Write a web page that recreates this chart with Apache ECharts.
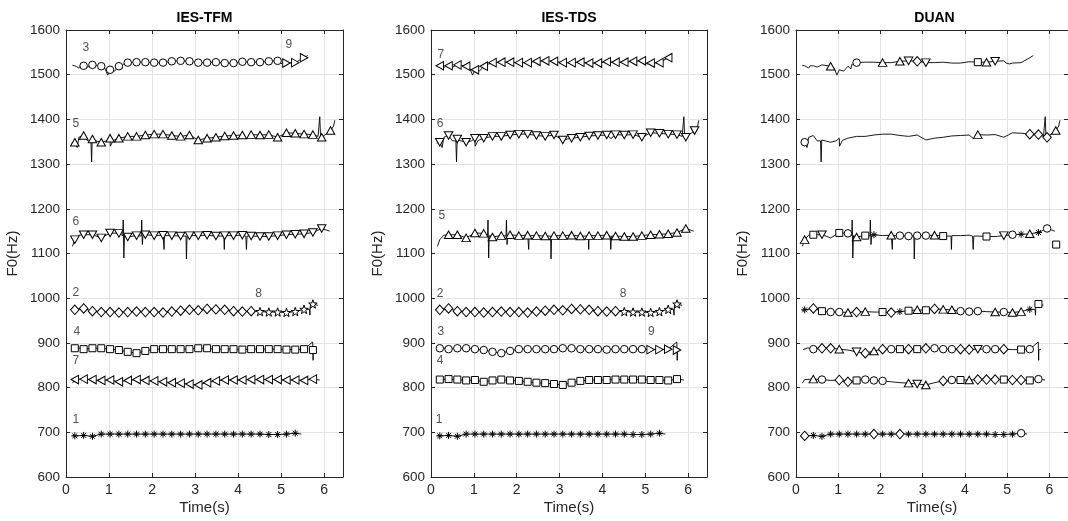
<!DOCTYPE html>
<html><head><meta charset="utf-8">
<script src="https://cdn.jsdelivr.net/npm/echarts@6/dist/echarts.min.js"></script>
<style>html,body{margin:0;padding:0;background:#fff}#c{width:1068px;height:521px}</style>
</head><body><div id="c"></div>
<script>
// ---------------- data ----------------
const STEP = 0.205;                 // marker spacing (s)
const panelTitles = ['IES-TFM', 'IES-TDS', 'DUAN'];
const xTicks = [0, 1, 2, 3, 4, 5, 6];
const yTicks = [600, 700, 800, 900, 1000, 1100, 1200, 1300, 1400, 1500, 1600];

// F0 contours sampled at k*STEP (k = 1..N) plus extra detail points [t, f]
const fA = [1520,1520,1522,1519,1511,1519,1527,1528,1528,1527,1527,1530,1531,1530,1527,1527,1528,1526,1526,1529,1528,1528,1530,1531,1526,1527,1538];
const extraA = [[0.15,1521],[0.3,1515],[0.34,1520],[0.5,1517],[0.9,1515],[0.97,1499],[1.07,1512],[1.13,1508],[1.3,1513],[1.32,1523],[4.98,1526],[5.05,1524],[5.62,1543]];
const fB = [1349,1364,1356,1349,1358,1358,1362,1362,1365,1367,1367,1364,1362,1365,1354,1358,1360,1363,1364,1365,1366,1365,1366,1360,1370,1369,1367,1366,1360,1375];
const extraB = [[0.13,1347],[0.26,1337],[0.3,1360],[0.5,1352],[0.58,1352],[0.595,1305],[0.61,1354],[0.95,1352],[1.03,1340],[1.1,1353],[4.2,1357],[5.86,1362],[5.9,1406],[5.92,1358],[6.22,1385],[6.25,1398]];
const fC = [1131,1142,1142,1135,1146,1145,1137,1140,1142,1140,1141,1140,1139,1140,1140,1141,1139,1140,1140,1141,1139,1138,1138,1140,1142,1143,1144,1147,1156];
const extraC = [[0.15,1116],[0.3,1141],[1.32,1140],[1.33,1175],[1.345,1090],[1.36,1140],[1.75,1139],[1.76,1175],[1.775,1120],[1.79,1140],[2.27,1140],[2.28,1109],[2.29,1140],[2.79,1139],[2.8,1088],[2.815,1139],[3.67,1139],[3.68,1109],[3.695,1139],[4.18,1139],[4.195,1109],[4.21,1139],[6.13,1150]];
const fD = [974,977,971,969,969,968,969,970,969,969,968,970,972,974,973,976,975,974,971,970,971,970,969,969,968,970,975,987];
const extraD = [[0.15,973],[5.66,975],[5.67,962],[5.68,984],[5.86,984]];
const fE = [888,886,888,888,886,884,880,877,882,886,886,886,886,886,888,888,886,886,886,885,886,886,886,886,885,885,886,884];
const extraE = [[0.17,885],[0.28,889],[5.735,902],[5.745,861],[5.75,884],[5.8,886]];
const fF = [818,819,818,816,817,813,816,818,816,815,813,811,810,808,806,811,815,817,817,817,818,818,818,818,817,817,816,819];
const extraF = [[0.15,810],[0.25,818],[5.9,817]];
const fG = [692,693,691,696,696,696,696,696,696,696,696,696,696,696,696,696,696,696,696,696,696,696,695,695,696,698];
const extraG = [[0.15,693],[5.47,696]];

// marker runs: [contour index, marker type, k from, k to]
const marksTFM = [[0,'o',2,24],[0,'>',25,27],[1,'^',1,30],[2,'v',1,29],[3,'d',1,21],[3,'p',22,28],[4,'s',1,28],[5,'<',1,28],[6,'*',1,26]];
const marksTDS = [[0,'<',1,27],[1,'v',1,30],[2,'^',2,29],[3,'d',1,21],[3,'p',22,28],[4,'o',1,24],[4,'>',25,28],[5,'s',1,28],[6,'*',1,26]];
const marksDUAN = [
 [0,'^',4,4],[0,'o',7,7],[0,'^',10,10],[0,'^',12,12],[0,'v',13,13],[0,'d',14,14],[0,'v',15,15],[0,'s',21,21],[0,'^',22,22],[0,'v',23,23],
 [1,'o',1,1],[1,'^',21,21],[1,'d',27,29],[1,'^',30,30],
 [2,'^',1,1],[2,'s',2,2],[2,'v',3,3],[2,'s',5,5],[2,'o',6,6],[2,'^',7,7],[2,'s',8,8],[2,'*',9,9],[2,'^',11,11],[2,'o',12,15],[2,'^',16,16],[2,'s',17,17],[2,'s',22,22],[2,'v',24,24],[2,'o',25,25],[2,'*',26,26],[2,'^',27,27],[2,'*',28,28],[2,'o',29,29],
 [3,'*',1,1],[3,'d',2,2],[3,'s',3,3],[3,'o',4,5],[3,'^',6,6],[3,'d',7,7],[3,'^',8,8],[3,'s',10,10],[3,'d',11,11],[3,'*',12,12],[3,'s',13,13],[3,'^',14,14],[3,'s',15,15],[3,'d',16,16],[3,'^',17,18],[3,'o',19,21],[3,'^',23,23],[3,'o',24,24],[3,'^',25,26],[3,'*',27,27],[3,'s',28,28],
 [4,'o',2,2],[4,'d',3,4],[4,'^',5,5],[4,'v',7,7],[4,'d',8,8],[4,'^',9,9],[4,'d',10,10],[4,'o',11,11],[4,'s',12,12],[4,'d',13,13],[4,'s',14,14],[4,'d',15,15],[4,'o',16,18],[4,'d',19,20],[4,'v',21,21],[4,'o',22,23],[4,'d',24,24],[4,'s',26,26],[4,'o',27,27],
 [5,'^',2,2],[5,'o',3,3],[5,'d',5,6],[5,'s',7,7],[5,'o',8,10],[5,'^',13,13],[5,'v',14,14],[5,'^',15,15],[5,'d',17,17],[5,'o',18,18],[5,'s',19,19],[5,'^',20,20],[5,'d',21,23],[5,'s',24,24],[5,'d',25,26],[5,'s',27,27],[5,'o',28,28],
 [6,'d',1,1],[6,'*',2,8],[6,'d',9,9],[6,'*',10,11],[6,'d',12,12],[6,'*',13,25],[6,'o',26,26]];
const strayDUAN = [['s', 6.16, 1120]];

// source-number annotations: [text, t, f]
const labelsTFM = [['3',0.46,1561],['9',5.18,1568],['5',0.23,1391],['6',0.23,1172],['2',0.23,1013],['8',4.48,1011],['4',0.25,926],['7',0.23,861],['1',0.23,729]];
const labelsTDS = [['7',0.23,1544],['6',0.21,1391],['5',0.25,1184],['2',0.21,1011],['8',4.48,1011],['3',0.23,926],['9',5.14,925],['4',0.21,861],['1',0.19,729]];
const labelsDUAN = [];

// ---------------- build ----------------
const contourF = [fA, fB, fC, fD, fE, fF, fG];
const contourExtra = [extraA, extraB, extraC, extraD, extraE, extraF, extraG];
const panelMarks = [marksTFM, marksTDS, marksDUAN];
const panelStray = [[], [], strayDUAN];
const panelLabels = [labelsTFM, labelsTDS, labelsDUAN];

function starPath() {
  let d = '';
  for (let i = 0; i < 10; i++) {
    const r = i % 2 === 0 ? 5 : 2;
    const a = -Math.PI / 2 + i * Math.PI / 5;
    d += (i === 0 ? 'M' : 'L') + (5 + r * Math.cos(a)).toFixed(3) + ',' + (5 + r * Math.sin(a)).toFixed(3);
  }
  return 'path://' + d + 'Z';
}
const SYM = {
  'o': { symbol: 'circle', size: 7.5 },
  '^': { symbol: 'path://M5,0L10,9L0,9Z', size: [8.5, 7.5] },
  'v': { symbol: 'path://M0,0L10,0L5,9Z', size: [8.5, 7.5] },
  '<': { symbol: 'path://M0,5L9,0L9,10Z', size: [7.5, 8.5] },
  '>': { symbol: 'path://M0,0L9,5L0,10Z', size: [7.5, 8.5] },
  'd': { symbol: 'diamond', size: [8.5, 9.5] },
  's': { symbol: 'rect', size: 7 },
  'p': { symbol: starPath(), size: 8.5 },
  '*': { symbol: 'path://M5,0L5,10M0,5L10,5M1.5,1.5L8.5,8.5M1.5,8.5L8.5,1.5', size: 7 }
};

const grids = [
  { left: 66, top: 30, width: 277, height: 447 },
  { left: 431, top: 30, width: 276, height: 447 },
  { left: 796, top: 30, width: 277, height: 447 }
];
const FONT = 'Liberation Sans, Arial, Helvetica, sans-serif';
const TXT = '#262626';
const XMAX = 6.44;

const xAxis = [], yAxis = [], series = [], graphic = [];
grids.forEach((g, p) => {
  const common = { min: 0, max: XMAX, interval: 1, gridIndex: p };
  xAxis.push(Object.assign({}, common, {
    type: 'value', position: 'bottom',
    name: 'Time(s)', nameLocation: 'middle', nameGap: 23, nameMoveOverlap: false,
    nameTextStyle: { fontFamily: FONT, fontSize: 15, color: TXT },
    axisLine: { show: true, onZero: false, lineStyle: { color: '#262626', width: 1 } },
    axisTick: { show: true, inside: true, length: 4, lineStyle: { color: '#262626' } },
    axisLabel: { show: true, margin: 6, fontFamily: FONT, fontSize: 14, color: TXT, showMaxLabel: false,
      formatter: v => xTicks.indexOf(v) >= 0 ? String(v) : '' },
    splitLine: { show: true, lineStyle: { color: '#e3e3e3', width: 1 } }
  }));
  xAxis.push(Object.assign({}, common, {
    type: 'value', position: 'top',
    axisLine: { show: true, onZero: false, lineStyle: { color: '#262626', width: 1 } },
    axisTick: { show: true, inside: true, length: 4, lineStyle: { color: '#262626' } },
    axisLabel: { show: false }, splitLine: { show: false }
  }));
  const yc = { type: 'value', min: yTicks[0], max: yTicks[yTicks.length - 1], interval: 100, gridIndex: p };
  yAxis.push(Object.assign({}, yc, {
    position: 'left',
    name: 'F0(Hz)', nameLocation: 'middle', nameGap: 46, nameRotate: 90, nameMoveOverlap: false,
    nameTextStyle: { fontFamily: FONT, fontSize: 15, color: TXT },
    axisLine: { show: true, onZero: false, lineStyle: { color: '#262626', width: 1 } },
    axisTick: { show: true, inside: true, length: 4, lineStyle: { color: '#262626' } },
    axisLabel: { show: true, margin: 6, fontFamily: FONT, fontSize: 13.5, color: TXT,
      formatter: v => String(v) },
    splitLine: { show: true, lineStyle: { color: '#e3e3e3', width: 1 } }
  }));
  yAxis.push(Object.assign({}, yc, {
    position: 'right',
    axisLine: { show: true, onZero: false, lineStyle: { color: '#262626', width: 1 } },
    axisTick: { show: true, inside: true, length: 4, lineStyle: { color: '#262626' } },
    axisLabel: { show: false }, splitLine: { show: false }
  }));

  // contour lines
  contourF.forEach((fs, ci) => {
    const pts = fs.map((f, i) => [STEP * (i + 1), f]).concat(contourExtra[ci]);
    pts.sort((a, b) => a[0] - b[0]);
    series.push({
      type: 'line', xAxisIndex: 2 * p, yAxisIndex: 2 * p, data: pts,
      showSymbol: false, symbol: 'none', smooth: false, z: 2, silent: true,
      lineStyle: { color: '#000', width: 0.9 }
    });
  });

  // markers grouped by type
  const byType = {};
  panelMarks[p].forEach(([ci, t, k0, k1]) => {
    for (let k = k0; k <= k1; k++) {
      (byType[t] = byType[t] || []).push([STEP * k, contourF[ci][k - 1]]);
    }
  });
  panelStray[p].forEach(([t, x, y]) => { (byType[t] = byType[t] || []).push([x, y]); });
  Object.keys(byType).forEach(t => {
    series.push({
      type: 'scatter', xAxisIndex: 2 * p, yAxisIndex: 2 * p, data: byType[t],
      symbol: SYM[t].symbol, symbolSize: SYM[t].size, z: 3, silent: true,
      itemStyle: { color: '#fff', borderColor: '#000', borderWidth: 1, opacity: 1 }
    });
  });

  // number annotations
  if (panelLabels[p].length) {
    series.push({
      type: 'scatter', xAxisIndex: 2 * p, yAxisIndex: 2 * p, symbolSize: 0, z: 4, silent: true,
      data: panelLabels[p].map(([txt, x, y]) => ({ value: [x, y], name: txt })),
      label: { show: true, position: 'inside', formatter: '{b}', fontFamily: FONT, fontSize: 12, color: TXT }
    });
  }

  graphic.push({
    type: 'text', x: g.left + g.width / 2, y: 18,
    style: { text: panelTitles[p], fontFamily: FONT, fontSize: 14, fontWeight: 'bold', fill: '#000',
      textAlign: 'center', textVerticalAlign: 'middle' }
  });
});

const chart = echarts.init(document.getElementById('c'));
chart.setOption({
  animation: false,
  backgroundColor: '#fff',
  grid: grids,
  xAxis, yAxis, series, graphic
});
</script>
</body></html>
